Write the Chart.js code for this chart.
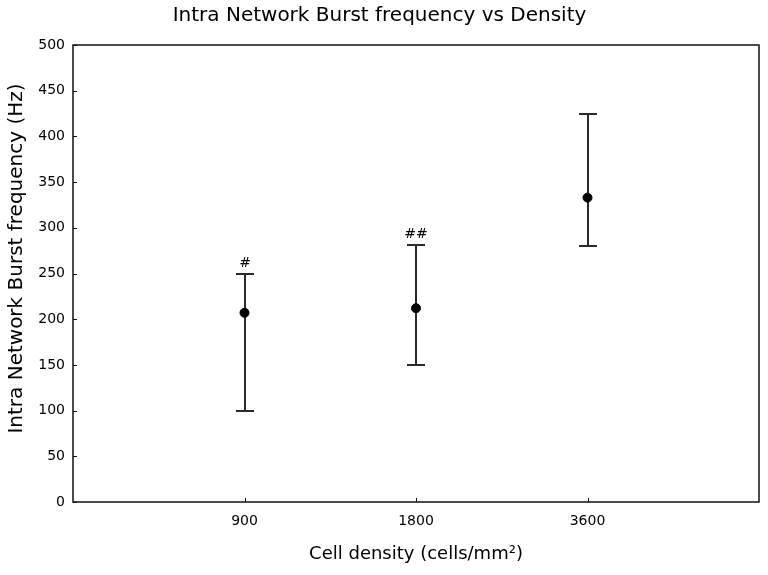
<!DOCTYPE html>
<html>
<head>
<meta charset="utf-8">
<script src="https://cdn.jsdelivr.net/npm/chart.js@4/dist/chart.umd.min.js"></script>
<style>
  html, body { margin: 0; padding: 0; background: #fff; }
  #wrap { width: 768px; height: 575px; }
</style>
</head>
<body>
<div id="wrap"><canvas id="c" width="768" height="575"></canvas></div>
<script>
const categories = ['900', '1800', '3600'];
const means = [207, 212, 333];
const upperValues = [250, 281, 425];
const lowerValues = [100, 150, 280];
const markers = ['#', '##', ''];
const yTicks = [0, 50, 100, 150, 200, 250, 300, 350, 400, 450, 500];
const yTitle = 'Intra Network Burst frequency (Hz)';

const points = categories.map((c, i) => ({ x: i + 1, y: means[i] }));

const FONT = "'DejaVu Sans', 'Liberation Sans', Arial, sans-serif";

const decorPlugin = {
  id: 'decor',
  beforeDatasetsDraw(chart) {
    const { ctx, scales: { x, y } } = chart;
    ctx.save();
    ctx.strokeStyle = '#2a2a2a';
    ctx.lineWidth = 2;
    const cap = 9;
    categories.forEach((c, i) => {
      const px = Math.round(x.getPixelForValue(i + 1));
      const yu = Math.round(y.getPixelForValue(upperValues[i]));
      const yl = Math.round(y.getPixelForValue(lowerValues[i]));
      ctx.beginPath();
      ctx.moveTo(px, yu); ctx.lineTo(px, yl);
      ctx.moveTo(px - cap, yu); ctx.lineTo(px + cap, yu);
      ctx.moveTo(px - cap, yl); ctx.lineTo(px + cap, yl);
      ctx.stroke();
      if (markers[i]) {
        ctx.fillStyle = '#000';
        ctx.font = '14px ' + FONT;
        ctx.textAlign = 'center';
        ctx.textBaseline = 'alphabetic';
        ctx.fillText(markers[i], px, yu - 7);
      }
    });
    ctx.restore();
  },
  afterDraw(chart) {
    const { ctx, chartArea: a, scales: { x, y } } = chart;
    ctx.save();
    ctx.strokeStyle = '#111';
    ctx.lineWidth = 1.5;
    ctx.strokeRect(a.left, a.top, a.right - a.left, a.bottom - a.top);
    ctx.lineWidth = 1;
    ctx.beginPath();
    yTicks.forEach(v => {
      const py = Math.round(y.getPixelForValue(v)) + 0.5;
      ctx.moveTo(a.left, py); ctx.lineTo(a.left + 4, py);
    });
    categories.forEach((c, i) => {
      const px = Math.round(x.getPixelForValue(i + 1)) + 0.5;
      ctx.moveTo(px, a.bottom); ctx.lineTo(px, a.bottom - 4);
    });
    ctx.stroke();
    // y-axis title
    ctx.translate(17, a.top + (a.bottom - a.top) / 2 - 15);
    ctx.rotate(-Math.PI / 2);
    ctx.fillStyle = '#000';
    ctx.font = '20px ' + FONT;
    ctx.textAlign = 'center';
    ctx.textBaseline = 'middle';
    ctx.fillText(yTitle, 0, 0);
    ctx.restore();
  }
};

new Chart(document.getElementById('c'), {
  type: 'scatter',
  data: {
    datasets: [{
      data: points,
      backgroundColor: '#000',
      borderColor: '#000',
      pointRadius: 4.5,
      pointHoverRadius: 4.5,
      showLine: false
    }]
  },
  options: {
    responsive: false,
    animation: false,
    events: [],
    layout: { padding: { left: 0, right: 9, top: 0, bottom: 0 } },
    plugins: {
      legend: { display: false },
      tooltip: { enabled: false },
      title: {
        display: true,
        text: 'Intra Network Burst frequency vs Density',
        color: '#000',
        font: { family: FONT, size: 20, weight: 'normal' },
        padding: { top: 4, bottom: 17 }
      }
    },
    scales: {
      x: {
        type: 'linear',
        min: 0,
        max: 4,
        afterFit(scale) { scale.height = 73; },
        afterBuildTicks(scale) {
          scale.ticks = categories.map((c, i) => ({ value: i + 1 }));
        },
        ticks: {
          color: '#000',
          font: { family: FONT, size: 14 },
          padding: 11,
          maxRotation: 0,
          autoSkip: false,
          callback: (v) => categories[v - 1] || ''
        },
        grid: { display: false, drawTicks: false },
        border: { display: false },
        title: {
          display: true,
          text: 'Cell density (cells/mm²)',
          color: '#000',
          font: { family: FONT, size: 18, weight: 'normal' },
          padding: { top: 0, bottom: 10 }
        }
      },
      y: {
        min: 0,
        max: 500,
        afterFit(scale) { scale.width = 73; },
        afterBuildTicks(scale) {
          scale.ticks = yTicks.map(v => ({ value: v }));
        },
        ticks: {
          color: '#000',
          font: { family: FONT, size: 14 },
          padding: 8
        },
        grid: { display: false, drawTicks: false },
        border: { display: false },
        title: { display: false }
      }
    }
  },
  plugins: [decorPlugin]
});
</script>
</body>
</html>
